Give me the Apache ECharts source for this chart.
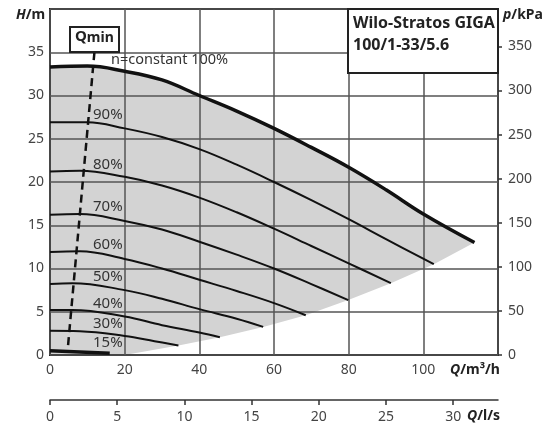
<!DOCTYPE html>
<html><head><meta charset="utf-8">
<script src="https://cdn.jsdelivr.net/npm/echarts@6/dist/echarts.min.js"></script>
<style>html,body{margin:0;padding:0;background:#fff}#c{width:550px;height:430px}</style>
</head><body><div id="c"></div>
<script>
// Flow Q in m3/h, head H in m
const curve100 = [[0,33.3],[10,33.4],[20,32.8],[30,31.8],[40,30.0],[50,28.2],[60,26.2],[70,24.0],[80,21.7],[90,19.1],[100,16.3],[113.7,13.0]];
const curve90  = [[0,26.9],[10,26.9],[20,26.2],[30,25.2],[40,23.8],[50,22.0],[60,20.0],[70,17.9],[80,15.7],[90,13.4],[102.8,10.5]];
const curve80  = [[0,21.2],[8,21.3],[20,20.6],[30,19.6],[40,18.2],[50,16.5],[60,14.6],[70,12.6],[80,10.6],[91.3,8.3]];
const curve70  = [[0,16.2],[8,16.3],[20,15.5],[30,14.5],[40,13.1],[50,11.6],[60,10.0],[70,8.2],[79.9,6.35]];
const curve60  = [[0,11.9],[8,12.0],[20,11.1],[30,10.0],[40,8.7],[50,7.4],[60,6.0],[68.5,4.6]];
const curve50  = [[0,8.2],[6,8.3],[20,7.5],[30,6.5],[40,5.3],[50,4.2],[57.1,3.25]];
const curve40  = [[0,5.2],[6,5.2],[20,4.45],[30,3.45],[40,2.6],[45.5,2.05]];
const curve30  = [[0,2.8],[8,2.75],[20,2.2],[28,1.6],[34.4,1.1]];
const curve15  = [[0,0.5],[16,0.2]];
const qminLine = [[11.9,35],[4.7,0.45]];
const lowerBoundary = [[20,0],[34.4,1.1],[45.5,2.05],[57.1,3.25],[68.5,4.6],[79.9,6.35],[91.3,8.3],[102.8,10.5],[113.7,13.0]];
const speedLabels = ['90%','80%','70%','60%','50%','40%','30%','15%'];
const headTicks = [0,5,10,15,20,25,30,35];
const kpaTicks = [0,50,100,150,200,250,300,350];
const flowTicks = [0,20,40,60,80,100];
const lsTicks = [0,5,10,15,20,25,30];
const flowMax = 120, headMax = 40;
const kpaPerMeter = 9.81, lsPerM3h = 1/3.6;

const grayPolygon = [[0,0]].concat(curve100, lowerBoundary.slice().reverse());

const chart = echarts.init(document.getElementById('c'), null, {renderer:'canvas'});
const font = 'Noto Sans';
const lbl = {color:'#444', fontFamily:font, fontSize:14};
const lineS = (d,w,smooth)=>({type:'line', data:d, smooth:smooth, symbol:'none', z:3, lineStyle:{color:'#111', width:w}, silent:true});

chart.setOption({
  animation:false,
  grid:{left:50, right:52, top:9, bottom:75, show:true, z:2, borderColor:'#222', borderWidth:2, backgroundColor:'transparent'},
  xAxis:[
    {type:'value', min:0, max:flowMax, interval:20, z:2, position:'bottom',
     axisLine:{show:false}, axisTick:{show:false},
     splitLine:{show:true, lineStyle:{color:'#555', width:1.5}},
     axisLabel:Object.assign({margin:8, customValues:flowTicks}, lbl)},
    {type:'value', min:0, max:flowMax*lsPerM3h, z:2, position:'bottom', offset:45,
     axisLine:{show:true, onZero:false, lineStyle:{color:'#333', width:1.5}},
     axisTick:{show:true, length:5, customValues:lsTicks, lineStyle:{color:'#333', width:1.5}},
     splitLine:{show:false},
     axisLabel:Object.assign({margin:10, customValues:lsTicks}, lbl)}
  ],
  yAxis:[
    {type:'value', min:0, max:headMax, interval:5, z:2, position:'left',
     axisLine:{show:false}, axisTick:{show:false},
     splitLine:{show:true, lineStyle:{color:'#555', width:1.5}},
     axisLabel:Object.assign({margin:6, customValues:headTicks}, lbl)},
    {type:'value', min:0, max:headMax*kpaPerMeter, z:2, position:'right',
     axisLine:{show:false, onZero:false}, axisTick:{show:true, length:4, customValues:kpaTicks, lineStyle:{color:'#333', width:1.5}},
     splitLine:{show:false},
     axisLabel:Object.assign({margin:10, customValues:kpaTicks}, lbl)}
  ],
  series:[
    {type:'custom', z:1, silent:true, clip:true, data:[[0,0]],
     renderItem:(params, api)=>({type:'polygon', shape:{points:grayPolygon.map(p=>api.coord(p))}, style:{fill:'#d3d3d3'}})},
    lineS(curve100,3.5,0.4),
    lineS(curve90,2,0.4), lineS(curve80,2,0.4), lineS(curve70,2,0.4), lineS(curve60,2,0.4),
    lineS(curve50,2,0.4), lineS(curve40,2,0.4), lineS(curve30,2,0.4),
    lineS(curve15,3.5,false),
    {type:'line', data:qminLine, symbol:'none', z:4, silent:true, lineStyle:{color:'#111', width:2.5, type:[8,5]}}
  ],
  graphic:[
    {type:'rect', z:100, shape:{x:348, y:9, width:150, height:64}, style:{fill:'#fff', stroke:'#222', lineWidth:2}},
    {type:'text', z:101, left:353, top:12, style:{text:'Wilo-Stratos GIGA\n100/1-33/5.6', fill:'#222', font:'bold 16px "Noto Sans"', lineHeight:22}},
    {type:'rect', z:100, shape:{x:70, y:27, width:49, height:25}, style:{fill:'#fff', stroke:'#222', lineWidth:2}},
    {type:'text', z:101, left:75, top:29, style:{rich:{q:{font:'bold 15px "Noto Sans"', fill:'#222'}, m:{font:'bold 14px "Noto Sans"', fill:'#222', padding:[4,0,0,0]}}, text:'{q|Q}{m|min}'}},
    {type:'text', z:101, left:111, top:52, style:{text:'n=constant 100%', fill:'#333', font:'14.5px "Noto Sans"'}},
    ...speedLabels.map((t,i)=>({type:'text', z:101, left:93, top:[107,157,199,237,269,296,316,335][i], style:{text:t, fill:'#333', font:'15px "Noto Sans"'}})),
    {type:'text', z:101, left:16, top:8, style:{rich:{a:{font:'italic bold 14px "Noto Sans"', fill:'#222'}, b:{font:'bold 14px "Noto Sans"', fill:'#222'}}, text:'{a|H}{b|/m}'}},
    {type:'text', z:101, left:503, top:8, style:{rich:{a:{font:'italic bold 14px "Noto Sans"', fill:'#222'}, b:{font:'bold 14px "Noto Sans"', fill:'#222'}}, text:'{a|p}{b|/kPa}'}},
    {type:'text', z:101, left:450, top:363, style:{rich:{a:{font:'italic bold 14px "Noto Sans"', fill:'#222'}, b:{font:'bold 14px "Noto Sans"', fill:'#222'}}, text:'{a|Q}{b|/m³/h}'}},
    {type:'text', z:101, left:467, top:409, style:{rich:{a:{font:'italic bold 14px "Noto Sans"', fill:'#222'}, b:{font:'bold 14px "Noto Sans"', fill:'#222'}}, text:'{a|Q}{b|/l/s}'}}
  ]
});
</script></body></html>
